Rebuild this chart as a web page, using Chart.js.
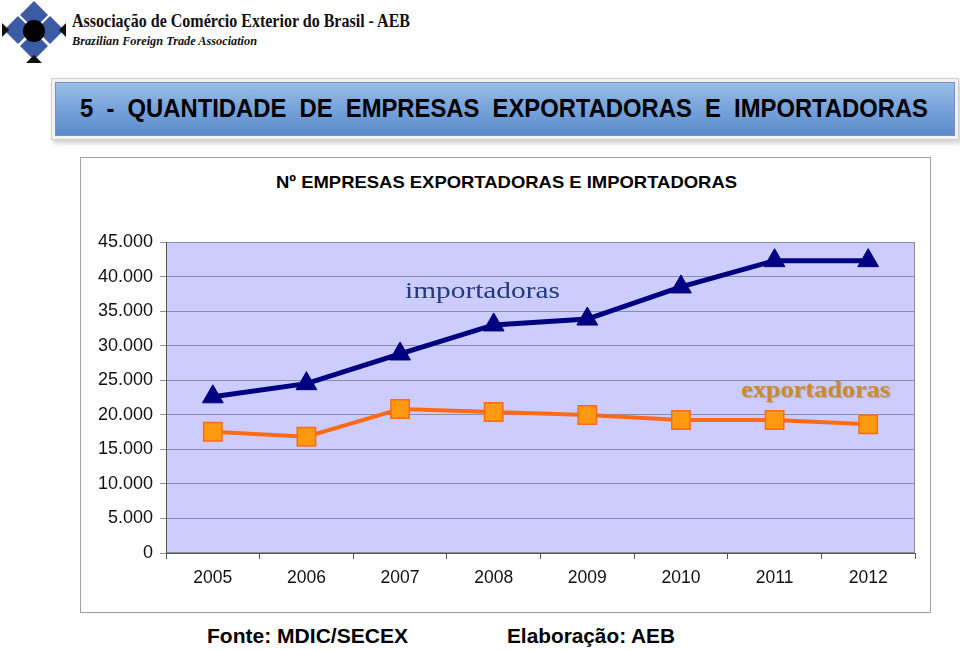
<!DOCTYPE html>
<html>
<head>
<meta charset="utf-8">
<script src="https://cdn.jsdelivr.net/npm/chart.js@4.4.0/dist/chart.umd.min.js"></script>
<style>
  html,body{margin:0;padding:0;background:#fff;}
  body{width:960px;height:650px;position:relative;overflow:hidden;font-family:"Liberation Sans",Arial,sans-serif;}
  .abs{position:absolute;white-space:nowrap;}
  .fit{transform-origin:left center;display:inline-block;}
  #banner{position:absolute;left:55px;top:82px;width:898px;height:52px;
    background:linear-gradient(#9cbde6 0%,#7aa5dc 45%,#5b8bcd 100%);
    border:1px solid #6f93c6;box-shadow:0 0 0 3px #f2f2f2,0 0 0 4px #d0d0d0,2px 3px 5px 4px #ccc;}
  #chartbox{position:absolute;left:80px;top:157px;width:849px;height:454px;border:1px solid #a0a0a0;}
  #wrap{position:absolute;left:80px;top:157px;width:850px;height:455px;}
</style>
</head>
<body>
<svg class="abs" style="left:2px;top:1px" width="64" height="62" viewBox="0 0 64 62">
  <polygon points="32,0 46,14 32,28 18,14" fill="#3b5ba5"/>
  <polygon points="16,15 30,29 16,43 2,29" fill="#3b5ba5"/>
  <polygon points="48,15 62,29 48,43 34,29" fill="#3b5ba5"/>
  <polygon points="32,31 46,45 32,59 18,45" fill="#3b5ba5"/>
  <polygon points="0,22 7,29 0,36" fill="#111"/>
  <polygon points="64,22 57,29 64,36" fill="#111"/>
  <polygon points="24,62 32,54 40,62" fill="#111"/>
  <circle cx="32" cy="30" r="11" fill="#000"/>
</svg>
<div class="abs" style="left:72px;top:11px;font:bold 18px 'Liberation Serif',serif;color:#111;"><span class="fit" data-w="338">Associação de Comércio Exterior do Brasil - AEB</span></div>
<div class="abs" style="left:72px;top:33px;font:italic bold 13px 'Liberation Serif',serif;color:#111;"><span class="fit" data-w="185">Brazilian Foreign Trade Association</span></div>

<div id="banner"></div>
<div class="abs" style="left:80px;top:94px;font:bold 25px 'Liberation Sans',Arial,sans-serif;color:#000;"><span class="fit" data-w="848">5&nbsp;&nbsp;-&nbsp;&nbsp;QUANTIDADE&nbsp;&nbsp;DE&nbsp;&nbsp;EMPRESAS&nbsp;&nbsp;EXPORTADORAS&nbsp;&nbsp;E&nbsp;&nbsp;IMPORTADORAS</span></div>

<div id="chartbox"></div>
<div class="abs" style="left:276px;top:173px;font:bold 17px 'Liberation Sans',Arial,sans-serif;color:#000;"><span class="fit" data-w="461">Nº EMPRESAS EXPORTADORAS E IMPORTADORAS</span></div>
<div id="wrap"><canvas id="c" width="850" height="455"></canvas></div>
<div class="abs" style="left:405px;top:277px;font:24px 'Liberation Serif',serif;color:#1f3b7b;"><span class="fit" data-w="155">importadoras</span></div>
<div class="abs" style="left:741px;top:377px;font:bold 23px 'Liberation Serif',serif;color:#cc8a30;text-shadow:1px 1px 1px rgba(120,90,40,0.35);"><span class="fit" data-w="149">exportadoras</span></div>

<div class="abs" style="left:207px;top:625px;font:bold 20px 'Liberation Sans',Arial,sans-serif;color:#000;"><span class="fit" data-w="201">Fonte: MDIC/SECEX</span></div>
<div class="abs" style="left:507px;top:625px;font:bold 20px 'Liberation Sans',Arial,sans-serif;color:#000;"><span class="fit" data-w="168">Elaboração: AEB</span></div>

<script>
const years = ['2005','2006','2007','2008','2009','2010','2011','2012'];
const importadoras = [22600, 24500, 28800, 33000, 33850, 38500, 42300, 42300];
const exportadoras = [17550, 16830, 20840, 20400, 19970, 19250, 19250, 18620];
const yMin = 0, yMax = 45000, yStep = 5000;

document.querySelectorAll('.fit').forEach(el => {
  const w = el.getBoundingClientRect().width;
  const target = +el.dataset.w;
  if (w > 0) el.style.transform = 'scaleX(' + (target / w) + ')';
});

function fmt(v){
  if (v === 0) return '0';
  return String(v).replace(/\B(?=(\d{3})+(?!\d))/g, '.');
}

const bgPlugin = {
  id: 'plotbg',
  beforeDraw(chart){
    const a = chart.chartArea, ctx = chart.ctx;
    ctx.save();
    ctx.fillStyle = '#ccccff';
    ctx.fillRect(a.left, a.top, a.right - a.left, a.bottom - a.top);
    ctx.strokeStyle = '#8c8c8c';
    ctx.lineWidth = 1;
    ctx.strokeRect(a.left + 0.5, a.top + 0.5, a.right - a.left - 1, a.bottom - a.top - 1);
    ctx.restore();
  }
};

new Chart(document.getElementById('c'), {
  type: 'line',
  data: {
    labels: years,
    datasets: [
      {
        label: 'importadoras',
        data: importadoras,
        borderColor: '#000080',
        backgroundColor: '#000080',
        borderWidth: 5,
        pointStyle: 'triangle',
        pointRadius: 12,
        pointHoverRadius: 12,
        pointBorderWidth: 1,
        pointBorderColor: '#000080',
        pointBackgroundColor: '#000080',
        tension: 0
      },
      {
        label: 'exportadoras',
        data: exportadoras,
        borderColor: '#ff6a14',
        backgroundColor: '#ff9a10',
        borderWidth: 4,
        pointStyle: 'rect',
        pointRadius: 13,
        pointHoverRadius: 13,
        pointBorderWidth: 1.5,
        pointBorderColor: '#ff6a14',
        pointBackgroundColor: '#ff9a10',
        tension: 0
      }
    ]
  },
  options: {
    responsive: false,
    animation: false,
    events: [],
    layout: { padding: { top: 85, right: 15, left: 0, bottom: 0 } },
    plugins: { legend: { display: false }, title: { display: false }, tooltip: { enabled: false } },
    scales: {
      x: {
        offset: true,
        grid: { display: true, offset: true, drawOnChartArea: false, drawTicks: true, tickLength: 6, color: '#555' },
        border: { display: true, color: '#555', width: 1 },
        ticks: { color: '#111', font: { family: "'Liberation Sans', Arial, sans-serif", size: 17.5 }, padding: 9, maxRotation: 0 },
        afterFit(s){ s.height = 59; }
      },
      y: {
        min: yMin, max: yMax,
        ticks: { stepSize: yStep, color: '#111', font: { family: "'Liberation Sans', Arial, sans-serif", size: 18 }, padding: 7, callback: v => fmt(v) },
        grid: { color: '#8c8ca8', lineWidth: 1, tickLength: 6, drawTicks: true },
        border: { display: true, color: '#555', width: 1 },
        afterFit(s){ s.width = 86; }
      }
    }
  },
  plugins: [bgPlugin]
});
</script>
</body>
</html>
